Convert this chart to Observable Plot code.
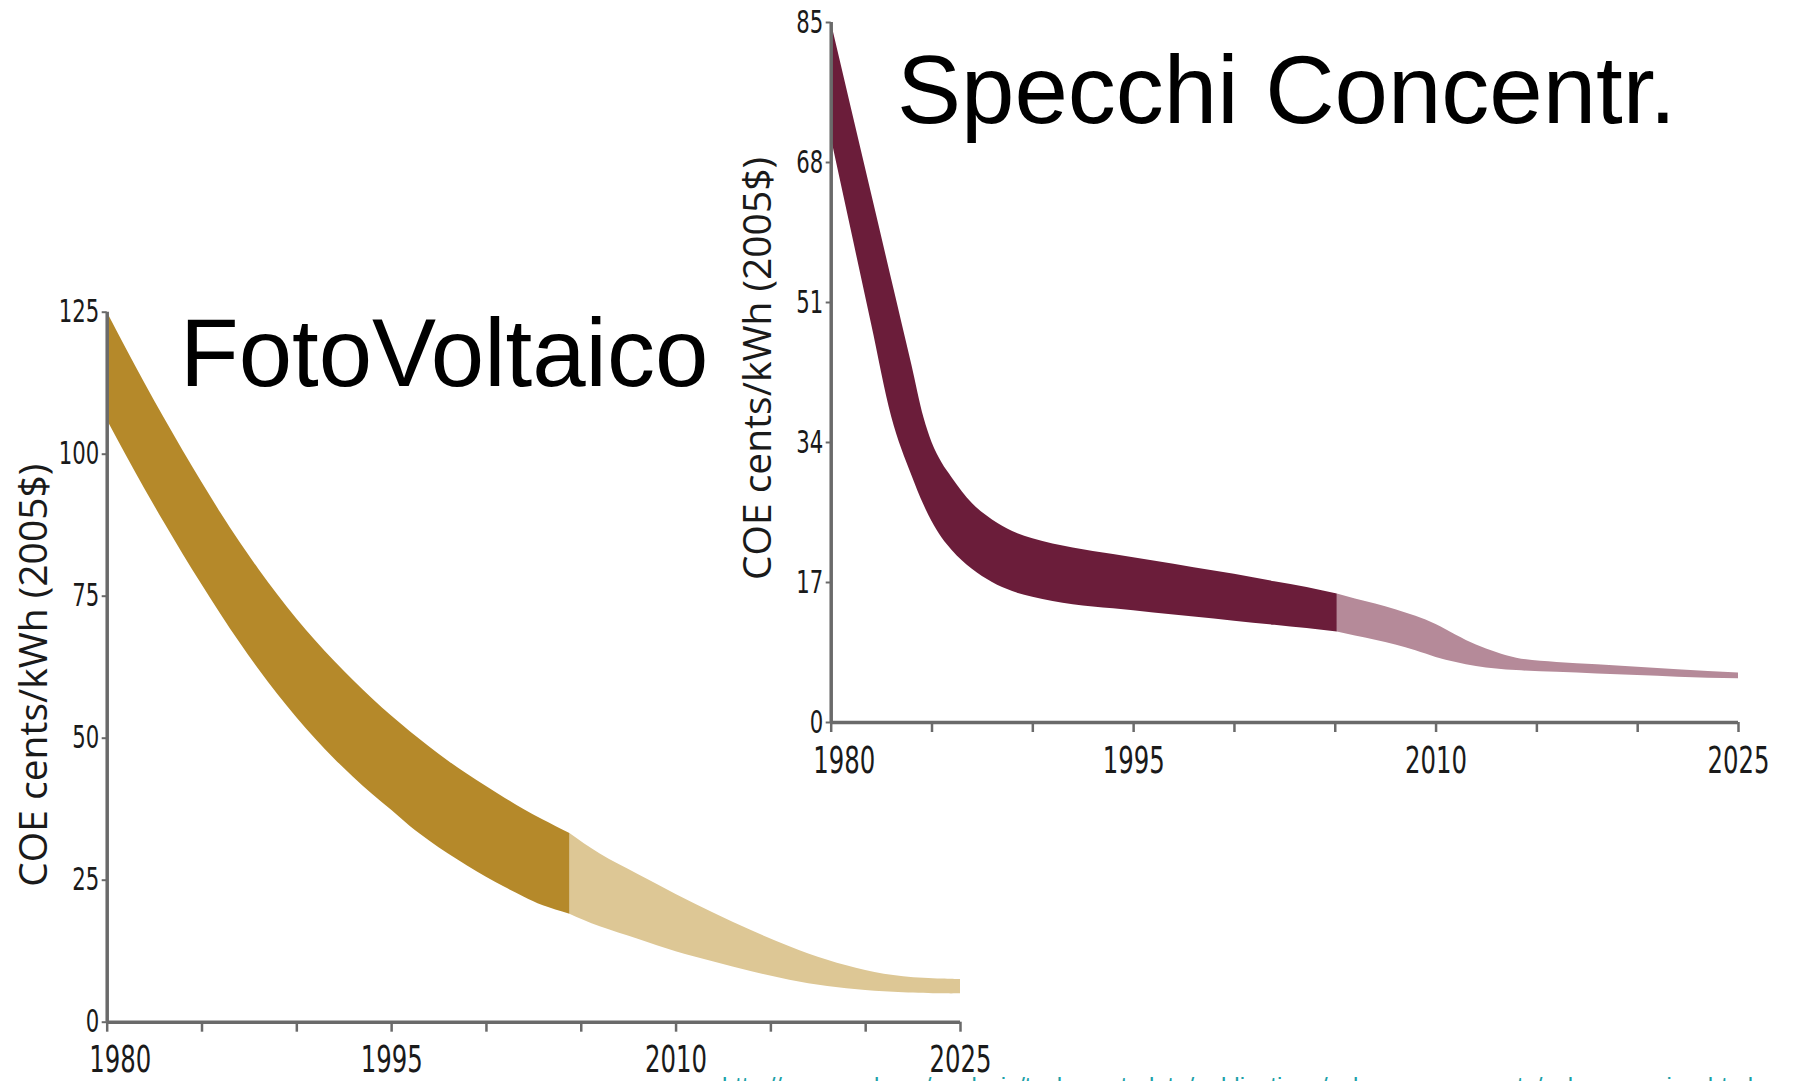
<!DOCTYPE html>
<html>
<head>
<meta charset="utf-8">
<script src="https://cdn.jsdelivr.net/npm/d3@7"></script>
<script src="https://cdn.jsdelivr.net/npm/@observablehq/plot@0.6"></script>
<style>
  html, body { margin: 0; padding: 0; width: 1793px; height: 1081px; overflow: hidden; background: #fff; }
  .chart { position: absolute; }
  #pv { left: 0; top: 280px; }
  #csp { left: 730px; top: 0; }
  .title { position: absolute; font-family: "Liberation Sans", Arial, sans-serif; font-size: 96px; line-height: 96px; color: #000; white-space: nowrap; }
  #pvTitle { left: 180px; top: 305px; }
  #cspTitle { left: 897px; top: 42px; }
  #source { position: absolute; left: 722px; top: 1074px; font-family: "Liberation Sans", Arial, sans-serif; font-size: 24px; line-height: 24px; color: #1aa0a8; white-space: nowrap; }
</style>
</head>
<body>
<div id="pv" class="chart"></div>
<div id="csp" class="chart"></div>
<div id="pvTitle" class="title"></div>
<div id="cspTitle" class="title"></div>
<div id="source"></div>
<script>
// ---- Data ----
const titles = ["FotoVoltaico", "Specchi Concentr."];
const yTitle = "COE cents/kWh (2005$)";
const sourceText = "http://www.nrel.gov/analysis/tech_cost_data/publications/solar_energy_costs/solar_overview.html";

const xTicks = [1980, 1985, 1990, 1995, 2000, 2005, 2010, 2015, 2020, 2025];
const xTickLabels = [1980, 1995, 2010, 2025];
const pvYTicks = [0, 25, 50, 75, 100, 125];
const cspYTicks = [0, 17, 34, 51, 68, 85];

// Photovoltaic: historical band
const pvYears = [1980, 1981, 1982, 1983, 1984, 1985, 1986, 1987, 1988, 1989, 1990, 1991, 1992, 1993, 1994, 1995, 1996, 1997, 1998, 1999, 2000, 2001, 2002, 2003, 2004.4];
const pvUpper = [125, 118.6, 112.4, 106.4, 100.6, 95.0, 89.6, 84.5, 79.7, 75.2, 71.0, 67.1, 63.5, 60.1, 56.9, 53.9, 51.1, 48.45, 45.95, 43.65, 41.5, 39.4, 37.4, 35.6, 33.2];
const pvLower = [106, 99.8, 93.8, 88.0, 82.4, 77.0, 71.8, 66.8, 62.1, 57.7, 53.6, 49.8, 46.3, 43.1, 40.1, 37.3, 34.4, 31.9, 29.6, 27.5, 25.5, 23.7, 22.0, 20.5, 19.0];
// Photovoltaic: projection band
const pvProjYears = [2004.4, 2006, 2008, 2010, 2012, 2014, 2016, 2018, 2020, 2022, 2024, 2025];
const pvProjUpper = [33.2, 29.6, 26.0, 22.5, 19.2, 16.1, 13.3, 10.9, 9.1, 8.0, 7.6, 7.5];
const pvProjLower = [19.0, 16.8, 14.6, 12.4, 10.6, 8.9, 7.4, 6.3, 5.6, 5.2, 5.0, 5.0];

// Concentrating solar: historical band
const cspYears = [1980, 1981, 1982, 1983, 1984, 1984.6, 1985, 1985.5, 1986, 1987, 1988, 1989, 1990, 1992, 1994, 1996, 1998, 2000, 2002, 2003.6, 2005.1];
const cspUpper = [85, 74.6, 64.2, 53.8, 43.4, 37, 34, 31.5, 29.7, 26.6, 24.6, 23.2, 22.3, 21.2, 20.4, 19.6, 18.8, 18.0, 17.1, 16.4, 15.6];
const cspLower = [71, 59.7, 48.4, 37.1, 30.0, 26.4, 24.4, 22.4, 20.9, 18.6, 17.0, 15.9, 15.2, 14.3, 13.8, 13.3, 12.8, 12.3, 11.8, 11.4, 11.0];
// Concentrating solar: projection band
const cspProjYears = [2005.1, 2006, 2007, 2008, 2009, 2010, 2011, 2012, 2013, 2014, 2016, 2018, 2020, 2022, 2025];
const cspProjUpper = [15.6, 15.0, 14.4, 13.7, 12.9, 11.9, 10.6, 9.4, 8.5, 7.8, 7.3, 7.0, 6.7, 6.4, 6.0];
const cspProjLower = [11.0, 10.5, 10.0, 9.4, 8.7, 7.9, 7.3, 6.8, 6.5, 6.3, 6.1, 5.9, 5.7, 5.5, 5.3];

// ---- Styles ----
const AXIS = "#6a6a6a";
const TEXT = "#1a1a1a";
const NARROW = "'Liberation Sans Narrow', 'DejaVu Sans Condensed', 'Arial Narrow', sans-serif";
const HUMAN = "'Open Sans', 'Noto Sans', sans-serif";

const rows = (xs, hi, lo) => xs.map((year, i) => ({year, upper: hi[i], lower: lo[i]}));

function chart(o) {
  return Plot.plot({
    width: o.width, height: o.height,
    marginLeft: o.marginLeft, marginRight: o.marginRight, marginTop: o.marginTop, marginBottom: o.marginBottom,
    style: {background: "transparent", overflow: "visible"},
    x: {type: "linear", domain: [1980, 2025]},
    y: {type: "linear", domain: o.yDomain},
    marks: [
      Plot.areaY(o.proj, {x: "year", y1: "lower", y2: "upper", fill: o.lightFill, curve: o.curve}),
      Plot.areaY(o.hist, {x: "year", y1: "lower", y2: "upper", fill: o.darkFill, curve: o.curve}),
      Plot.axisY(o.yTicks, {tickSize: 5, tickPadding: 3, stroke: AXIS, strokeWidth: 2, fill: TEXT, fontSize: 32, fontFamily: NARROW, label: null}),
      Plot.axisX(xTicks, {tickSize: 10, stroke: AXIS, strokeWidth: 2.5, fill: "none", label: null, tickFormat: "d"}),
      Plot.axisX(xTickLabels.slice(1), {tickSize: 0, tickPadding: 24, fill: TEXT, fontSize: 37, fontFamily: NARROW, label: null, tickFormat: "d"}),
      Plot.axisX(xTickLabels.slice(0, 1), {tickSize: 0, tickPadding: 24, dx: 13, fill: TEXT, fontSize: 37, fontFamily: NARROW, label: null, tickFormat: "d"}),
      Plot.ruleX([1980], {y1: o.yDomain[0], y2: o.yDomain[1], stroke: AXIS, strokeWidth: 3.5}),
      Plot.ruleY([0], {stroke: AXIS, strokeWidth: 3.5}),
      Plot.text([yTitle], {frameAnchor: "left", textAnchor: "middle", rotate: -90, dx: -73, dy: o.titleDy, fontSize: 39, fontFamily: HUMAN, fill: TEXT})
    ]
  });
}

function condense(svg) {
  // tick labels in the reference use a condensed face: squeeze glyphs horizontally
  svg.querySelectorAll('g[aria-label="x-axis tick label"] text').forEach(t => {
    t.setAttribute("textLength", t.textContent.length * 15.5);
    t.setAttribute("lengthAdjust", "spacingAndGlyphs");
  });
  svg.querySelectorAll('g[aria-label="y-axis tick label"] text').forEach(t => {
    t.setAttribute("textLength", t.textContent.length * 13.5);
    t.setAttribute("lengthAdjust", "spacingAndGlyphs");
  });
}

const pvSvg = chart({
  width: 1000, height: 801, marginLeft: 106.7, marginRight: 40, marginTop: 31.7, marginBottom: 59.3,
  yDomain: [0, 125], yTicks: pvYTicks, titleDy: 8, curve: "natural",
  hist: rows(pvYears, pvUpper, pvLower), proj: rows(pvProjYears, pvProjUpper, pvProjLower),
  darkFill: "#b5892a", lightFill: "#ddc795"
});
document.getElementById("pv").append(pvSvg);
condense(pvSvg);

const cspSvg = chart({
  width: 1063, height: 790, marginLeft: 100.7, marginRight: 55, marginTop: 22, marginBottom: 68,
  yDomain: [0, 85], yTicks: cspYTicks, titleDy: -4, curve: "monotone-x",
  hist: rows(cspYears, cspUpper, cspLower), proj: rows(cspProjYears, cspProjUpper, cspProjLower),
  darkFill: "#6b1d3a", lightFill: "#b58a99"
});
document.getElementById("csp").append(cspSvg);
condense(cspSvg);

document.getElementById("pvTitle").textContent = titles[0];
document.getElementById("cspTitle").textContent = titles[1];
document.getElementById("source").textContent = sourceText;
</script>
</body>
</html>
